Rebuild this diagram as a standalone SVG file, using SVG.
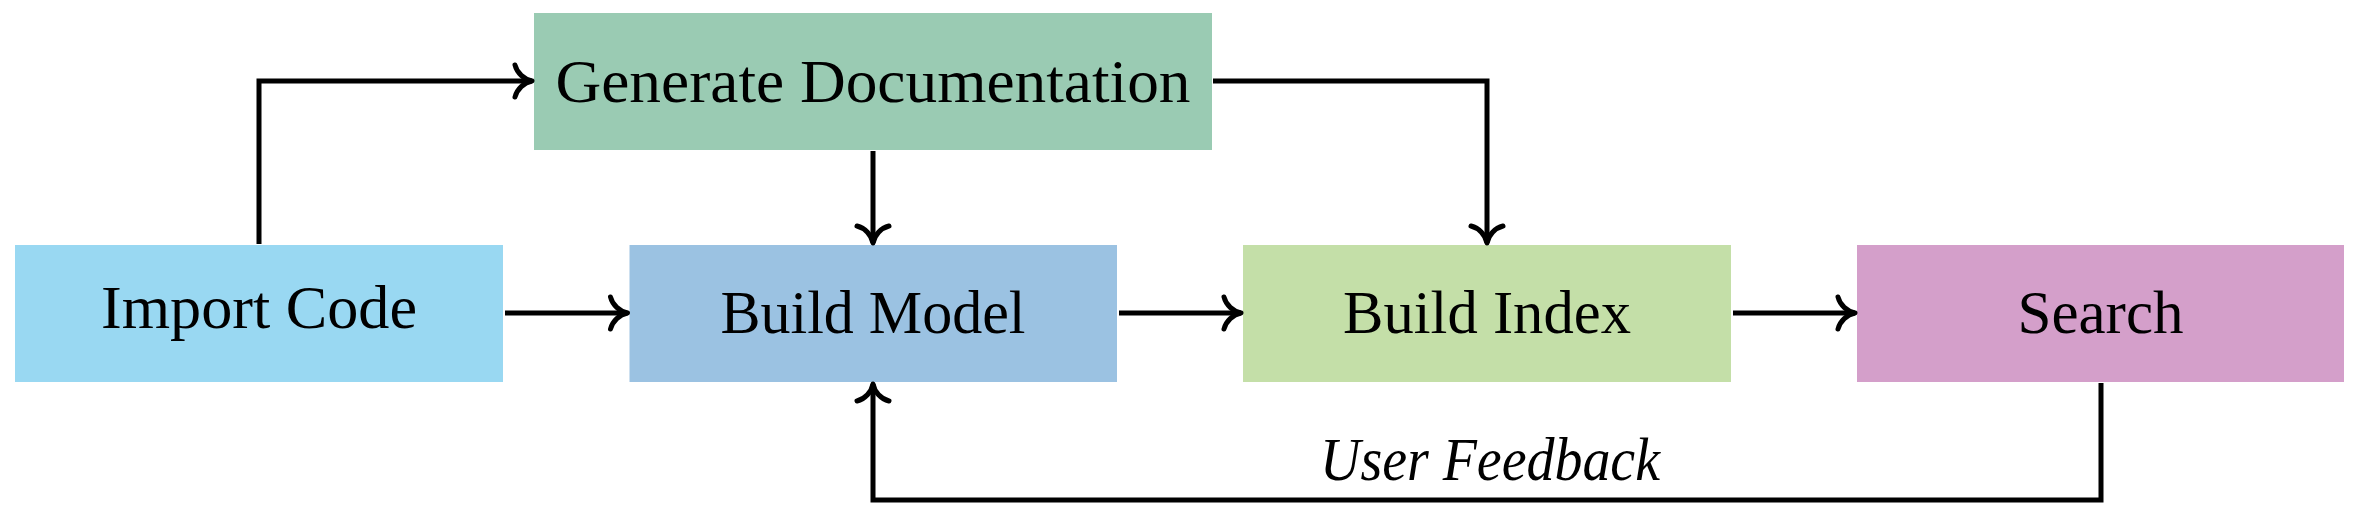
<svg xmlns="http://www.w3.org/2000/svg" width="2358" height="512" viewBox="0 0 2358 512">
<style>
.lbl{font-family:"Liberation Serif","Times New Roman",serif;font-size:62px;fill:#000;text-anchor:middle}
.it{font-style:italic}
.edge{fill:none;stroke:#000;stroke-width:5;stroke-linejoin:miter}
</style>
<defs>
<marker id="arr" markerUnits="userSpaceOnUse" viewBox="-24 -22 28 44" markerWidth="28" markerHeight="44" refX="0" refY="0" orient="auto">
<path d="M-17,-16 C-15,-8 -8,-1.5 0,0 C-8,1.5 -15,8 -17,16" fill="none" stroke="#000" stroke-width="5" stroke-linecap="round" stroke-linejoin="round"/>
</marker>
</defs>
<rect width="2358" height="512" fill="#fff"/>
<g id="import-code">
<rect x="15" y="245" width="488" height="137" fill="#99D8F2"/>
<text class="lbl" x="259" y="328" textLength="316" lengthAdjust="spacingAndGlyphs">Import Code</text>
</g>
<g id="generate-documentation">
<rect x="534" y="13" width="678" height="137" fill="#9ACBB3"/>
<text class="lbl" x="873" y="101.5" textLength="635" lengthAdjust="spacingAndGlyphs">Generate Documentation</text>
</g>
<g id="build-model">
<rect x="629.5" y="245" width="487.5" height="137" fill="#9BC2E2"/>
<text class="lbl" x="873" y="333" textLength="305" lengthAdjust="spacingAndGlyphs">Build Model</text>
</g>
<g id="build-index">
<rect x="1243" y="245" width="488" height="137" fill="#C4DFA8"/>
<text class="lbl" x="1487" y="333" textLength="288" lengthAdjust="spacingAndGlyphs">Build Index</text>
</g>
<g id="search">
<rect x="1857" y="245" width="487" height="137" fill="#D49FCA"/>
<text class="lbl" x="2100.5" y="333" textLength="166" lengthAdjust="spacingAndGlyphs">Search</text>
</g>
<g id="connectors">
<path class="edge" d="M259,244 V81 H532" marker-end="url(#arr)"/>
<path class="edge" d="M873,151 V243" marker-end="url(#arr)"/>
<path class="edge" d="M1213,81 H1487 V243" marker-end="url(#arr)"/>
<path class="edge" d="M505,313 H627.5" marker-end="url(#arr)"/>
<path class="edge" d="M1119,313 H1241" marker-end="url(#arr)"/>
<path class="edge" d="M1733,313 H1855" marker-end="url(#arr)"/>
<path class="edge" d="M2101,383 V500 H873 V384" marker-end="url(#arr)"/>
<text class="lbl it" x="1490" y="480" textLength="340" lengthAdjust="spacingAndGlyphs">User Feedback</text>
</g>
</svg>
